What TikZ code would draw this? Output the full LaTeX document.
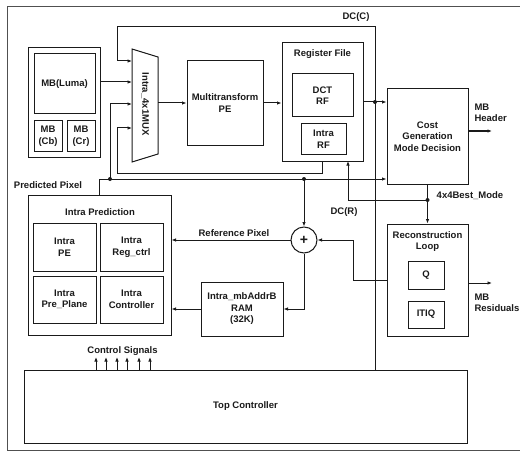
\documentclass[tikz,border=0pt]{standalone}
\usepackage{fontspec}
\setmainfont{Liberation Sans}
\usetikzlibrary{arrows.meta}
\definecolor{HWLine}{HTML}{1A1A1A}
\definecolor{HWFrame}{HTML}{505050}

\begin{document}
\begin{tikzpicture}[x=1pt,y=-1pt,
  every node/.style={font=\bfseries\fontsize{9.5}{11.5}\selectfont,text=HWLine},
  blk/.style={draw=HWLine,line width=1pt,align=center,inner sep=0pt},
  wire/.style={draw=HWLine,line width=1pt},
  arr/.style={wire,-{Latex[length=4.5pt,width=3.5pt]}},
  jdot/.style={circle,fill=HWLine,inner sep=0pt,minimum size=4pt}]
\path[use as bounding box] (0,0) rectangle (520,452);
\draw[HWFrame,line width=1pt] (520,7) -- (7,7) -- (7,450) -- (520,450);
% input macroblock buffers
\node[blk,minimum width=72,minimum height=109] (mbgrp) at (64,102.5) {};
\node[blk,minimum width=61,minimum height=60] (luma) at (64.5,84) {MB(Luma)};
\node[blk,minimum width=28,minimum height=30] (cb) at (48,136) {MB\\(Cb)};
\node[blk,minimum width=28,minimum height=30] (cr) at (81,136) {MB\\(Cr)};
% mux
\draw[HWLine,line width=1pt] (132,49) -- (158,57) -- (158,154) -- (132,162) -- cycle;
\node[rotate=-90] (mux) at (145,104) {Intra\_4x1MUX};
\coordinate (in1) at (132,61);
\coordinate (in2) at (132,82);
\coordinate (in3) at (132,104);
\coordinate (in4) at (132,128);
\coordinate (muxout) at (158,103);
\node[blk,minimum width=76,minimum height=84] (mpe) at (225,103) {Multitransform\\PE};
% register file
\node[blk,minimum width=81,minimum height=118] (regf) at (322.5,102) {};
\node (regft) at (322.5,54) {Register File};
\node[blk,minimum width=61,minimum height=43] (dctrf) at (322.5,95.5) {DCT\\RF};
\node[blk,minimum width=45,minimum height=30] (intrarf) at (323.5,139) {Intra\\RF};
\node[blk,minimum width=81,minimum height=95] (cost) at (427.5,136.5) {Cost\\Generation\\Mode Decision};
% reconstruction loop
\node[blk,minimum width=81,minimum height=112] (recon) at (427.5,280) {};
\node[align=center] (recont) at (427.5,241.5) {Reconstruction\\Loop};
\node[blk,minimum width=36,minimum height=28] (qq) at (426,275) {Q};
\node[blk,minimum width=36,minimum height=27] (itiq) at (426,314.5) {ITIQ};
% intra prediction
\node[blk,minimum width=143,minimum height=140] (intrap) at (99.5,265) {};
\node (intrapt) at (100,212) {Intra Prediction};
\node[blk,minimum width=63,minimum height=48] (ipe) at (64.5,247) {Intra\\PE};
\node[blk,minimum width=63,minimum height=48] (iregc) at (131.5,247) {Intra\\Reg\_ctrl};
\node[blk,minimum width=63,minimum height=47] (ipp) at (64.5,299.5) {Intra\\Pre\_Plane};
\node[blk,minimum width=63,minimum height=47] (ictl) at (131.5,299.5) {Intra\\Controller};
\node[blk,minimum width=82,minimum height=54] (ram) at (242,309) {Intra\_mbAddrB\\RAM\\(32K)};
\node[circle,draw=HWLine,line width=1pt,minimum size=26,inner sep=0pt,font=\bfseries\fontsize{14}{14}\selectfont] (adder) at (304,240) {+};
\node[blk,minimum width=443,minimum height=73] (topc) at (245.5,406.5) {Top Controller};
% labels
\node (dcc) at (356,17) {DC(C)};
\node[anchor=west,align=left] (mbh) at (471,113) {MB\\Header};
\node (ppix) at (48,185) {Predicted Pixel};
\node (rpix) at (234,233) {Reference Pixel};
\node (dcrl) at (344,212) {DC(R)};
\node (bestm) at (470,196) {4x4Best\_Mode};
\node[anchor=west,align=left] (mbr) at (471,303) {MB\\Residuals};
\node (ctrls) at (122.5,351) {Control Signals};
% connection points
\coordinate (jc) at (375,102);
\coordinate (jp1) at (110,179);
\coordinate (jp2) at (304,179);
\coordinate (jb) at (427.5,200);
\coordinate (rfin) at (348,161);
\coordinate (dcr) at (353,240);
\coordinate (hdrend) at (492,131);
\coordinate (resend) at (492,283);
% wires
\draw[arr] (jc) |- (117,27) |- (in1);
\draw[wire] (jc) -- (jc |- topc.north);
\draw[arr] (regf.east |- jc) -- (cost.west |- jc);
\draw[arr] (mbgrp.east |- in2) -- (in2);
\draw[arr] (muxout) -- (mpe.west |- muxout);
\draw[arr] (mpe.east) -- (regf.west |- mpe.east);
\draw[arr] (intrap.north) |- (cost.west |- jp1);
\draw[arr] (jp1) |- (in3);
\draw[arr] (regf.south) |- (117,173) |- (in4);
\draw[arr] (jp2) -- (adder.north);
\draw[arr] (cost.south) -- (recon.north);
\draw[arr] (jb) -| (rfin);
\draw[arr] (recon.west) -| (dcr) -- (adder.east);
\draw[arr] (adder.west) -- (intrap.east |- adder.west);
\draw[arr] (adder.south) |- (ram.east);
\draw[arr] (ram.west) -- (intrap.east |- ram.west);
\draw[arr] (cost.east |- hdrend) -- (hdrend);
\draw[arr] (recon.east |- resend) -- (resend);
\foreach \x in {96,106,117,127,139,150}
  \draw[arr] (\x,370) -- (\x,357);
\node[jdot] at (jc) {};
\node[jdot] at (jp1) {};
\node[jdot] at (jp2) {};
\node[jdot] at (jb) {};
\end{tikzpicture}
\end{document}
